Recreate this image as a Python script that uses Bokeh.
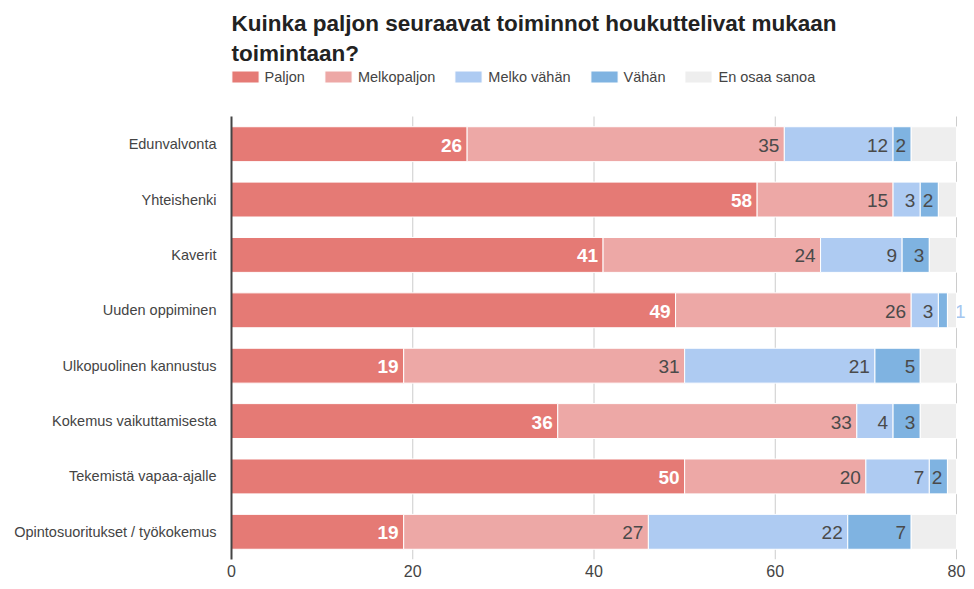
import numpy as np
from bokeh.plotting import figure
from bokeh.models import Range1d, FixedTicker, Legend, LegendItem, ColumnDataSource
from bokeh.core.properties import value
from bokeh.embed import file_html
from bokeh.resources import INLINE

# ---------------- data ----------------
title_text = "Kuinka paljon seuraavat toiminnot houkuttelivat mukaan\ntoimintaan?"
categories = [
    "Edunvalvonta",
    "Yhteishenki",
    "Kaverit",
    "Uuden oppiminen",
    "Ulkopuolinen kannustus",
    "Kokemus vaikuttamisesta",
    "Tekemistä vapaa-ajalle",
    "Opintosuoritukset / työkokemus",
]
series_names = ["Paljon", "Melkopaljon", "Melko vähän", "Vähän", "En osaa sanoa"]
paljon = [26, 58, 41, 49, 19, 36, 50, 19]
melkopaljon = [35, 15, 24, 26, 31, 33, 20, 27]
melko_vahan = [12, 3, 9, 3, 21, 4, 7, 22]
vahan = [2, 2, 3, 1, 5, 3, 2, 7]
en_osaa_sanoa = [25, 22, 23, 21, 24, 24, 21, 25]
x_ticks = [0, 20, 40, 60, 80]

# ---------------- style / layout ----------------
colors = ["#e57a75", "#eda8a6", "#aecbf2", "#7fb3e1", "#eeeeee"]
label_colors = ["#ffffff", "#4a4a4a", "#4a4a4a", "#4a4a4a", None]
label_styles = ["bold", "normal", "normal", "normal", "normal"]
outside_label_color = "#a6c6ef"
FONT = "Liberation Sans"
AXIS_MAX = x_ticks[-1]
W, H = 966, 581
LEFT, RIGHT, TOP, BOTTOM = 231, 0, 69, 22
FRAME_W = W - LEFT - RIGHT
FRAME_H = H - TOP - BOTTOM
PX_PER_UNIT = 725 / AXIS_MAX
X_END = FRAME_W / PX_PER_UNIT
n = len(categories)
ROW_PX = (FRAME_H - (116 - TOP)) / n          # bar area starts below legend
Y_END = n - 0.5 + (116 - TOP) / ROW_PX
ypos = [n - 1 - i for i in range(n)]

series = [paljon, melkopaljon, melko_vahan, vahan, en_osaa_sanoa]

p = figure(
    width=W, height=H,
    y_range=Range1d(-0.5, Y_END),
    x_range=Range1d(0, X_END),
    output_backend="svg", toolbar_location=None,
    min_border_left=LEFT, min_border_right=RIGHT,
    min_border_top=TOP, min_border_bottom=BOTTOM,
)
p.outline_line_color = None
p.background_fill_color = "white"

p.title.text = title_text
p.title.text_font = FONT
p.title.text_font_size = "22.5px"
p.title.text_font_style = "bold"
p.title.text_color = "#222222"
p.title.text_line_height = 1.18
p.title.align = "left"
p.title.standoff = 8

# x axis
p.xaxis.ticker = FixedTicker(ticks=x_ticks)
p.xaxis.axis_line_color = None
p.xaxis.major_tick_line_color = None
p.xaxis.major_tick_out = 0
p.xaxis.minor_tick_line_color = None
p.xaxis.major_label_text_font = FONT
p.xaxis.major_label_text_font_size = "16px"
p.xaxis.major_label_text_color = "#444444"
p.xaxis.major_label_standoff = 5

# y axis (categories)
p.yaxis.ticker = FixedTicker(ticks=ypos)
p.yaxis.major_label_overrides = {y: c for y, c in zip(ypos, categories)}
p.yaxis.bounds = (-0.5, n - 0.5)
p.yaxis.axis_line_color = "#444444"
p.yaxis.axis_line_width = 2
p.yaxis.major_tick_line_color = None
p.yaxis.major_tick_out = 0
p.yaxis.minor_tick_line_color = None
p.yaxis.major_label_text_font = FONT
p.yaxis.major_label_text_font_size = "14.5px"
p.yaxis.major_label_text_color = "#444444"
p.yaxis.major_label_standoff = 15

p.xgrid.grid_line_color = None
p.ygrid.grid_line_color = None

# vertical gridlines only over the bar area
grid_x = x_ticks[1:]
p.segment(x0=grid_x, x1=grid_x, y0=[-0.5] * len(grid_x), y1=[n - 0.5] * len(grid_x),
          line_color="#cccccc", line_width=1)

left = np.zeros(n)
renderers = []
for i, (name, vals) in enumerate(zip(series_names, series)):
    vals = np.array(vals, dtype=float)
    right = left + vals
    shown_right = np.minimum(right, AXIS_MAX)
    src = ColumnDataSource(dict(y=ypos, left=left, right=shown_right))
    r = p.hbar(y="y", left="left", right="right", height=0.63, source=src,
               fill_color=colors[i], line_color="white", line_width=1)
    renderers.append(r)

    if label_colors[i] is not None:
        inside = vals * PX_PER_UNIT >= 14
        ins = ColumnDataSource(dict(
            y=[yy for yy, k in zip(ypos, inside) if k],
            x=right[inside],
            t=[str(int(v)) for v, k in zip(vals, inside) if k],
        ))
        p.text(x="x", y="y", text="t", source=ins, text_align="right",
               text_baseline="middle", x_offset=-5, y_offset=1,
               text_color=label_colors[i], text_font=value(FONT),
               text_font_size="19px", text_font_style=label_styles[i])
        outs = ~inside
        if outs.any():
            osrc = ColumnDataSource(dict(
                y=[yy for yy, k in zip(ypos, outs) if k],
                x=[X_END] * int(outs.sum()),
                t=[str(int(v)) for v, k in zip(vals, outs) if k],
            ))
            p.text(x="x", y="y", text="t", source=osrc, text_align="right",
                   text_baseline="middle", x_offset=-1, y_offset=1,
                   text_color=outside_label_color, text_font=value(FONT),
                   text_font_size="19px")
    left = right

legend = Legend(
    items=[LegendItem(label=nm, renderers=[r]) for nm, r in zip(series_names, renderers)],
    orientation="horizontal",
    location=(-3.4, FRAME_H - 15.5),
    glyph_width=34, glyph_height=15, label_height=15,
    label_standoff=3, spacing=16,
    padding=0, margin=0, border_line_color=None, background_fill_alpha=0,
    label_text_font=FONT, label_text_font_size="14.5px", label_text_color="#444444",
)
p.add_layout(legend, "center")

open("out.html", "w").write(file_html(p, INLINE))
